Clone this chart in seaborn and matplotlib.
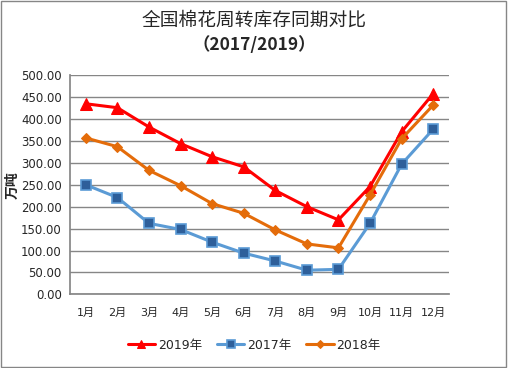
import matplotlib
matplotlib.use("Agg")
import matplotlib.pyplot as plt
import seaborn as sns
import pandas as pd

# ---------------------------------------------------
# Data
# ---------------------------------------------------
months = ["1月", "2月", "3月", "4月", "5月", "6月",
          "7月", "8月", "9月", "10月", "11月", "12月"]
stock_2019 = [435, 426, 382, 344, 314, 291, 237, 200, 170, 246, 371, 458]
stock_2017 = [250, 221, 162, 148, 119, 94, 76, 55, 57, 162, 297, 377]
stock_2018 = [357, 337, 283, 248, 207, 185, 147, 115, 106, 227, 355, 432]
series_names = ["2019年", "2017年", "2018年"]

df = pd.DataFrame({
    "idx": list(range(len(months))) * 3,
    "value": stock_2019 + stock_2017 + stock_2018,
    "year": [n for n in series_names for _ in months],
})

sns.set_theme(style="white")
plt.rcParams["font.family"] = ["DejaVu Sans", "Noto Sans CJK SC"]
cjk = ["Noto Sans CJK SC", "DejaVu Sans"]

fig = plt.figure(figsize=(5.08, 3.68), dpi=100)
ax = fig.add_axes([70 / 508, 1 - 294.3 / 368, 379 / 508, 219 / 368])

palette = {"2019年": "#FF0000", "2017年": "#5B9BD5", "2018年": "#E46C0A"}
markers = {"2019年": "^", "2017年": "s", "2018年": "D"}

sns.lineplot(
    data=df, x="idx", y="value", hue="year", style="year",
    palette=palette, markers=markers, dashes=False,
    linewidth=2.2, markersize=7, sort=False, ax=ax, legend=False,
)

# marker styling per series
for line, name in zip(ax.get_lines(), series_names):
    if name == "2017年":
        line.set_markerfacecolor("#2E5F9A")
        line.set_markeredgecolor("#5B9BD5")
        line.set_markeredgewidth(1.2)
        line.set_markersize(7)
    elif name == "2018年":
        line.set_markerfacecolor("#E46C0A")
        line.set_markeredgecolor("#E46C0A")
        line.set_markersize(5)
    else:
        line.set_markerfacecolor("#FF0000")
        line.set_markeredgecolor("#FF0000")
        line.set_markersize(8)

ax.set_xlim(-0.5, len(months) - 0.5)
ax.set_ylim(0, 500)
ax.set_yticks(range(0, 501, 50))
ax.set_yticklabels([f"{v:.2f}" for v in range(0, 501, 50)], fontsize=8.5)
ax.set_xticks(range(len(months)))
ax.set_xticklabels(months, fontsize=8)
ax.tick_params(axis="both", length=0, pad=6)
ax.tick_params(axis="x", pad=10)
ax.set_xlabel("")
ax.set_ylabel("万吨", fontsize=10, fontweight="bold", family=cjk)
ax.yaxis.set_label_coords(-50 / 379, 0.5)

ax.grid(axis="y", color="#868686", linewidth=1)
ax.grid(axis="x", visible=False)
for side in ["top", "right"]:
    ax.spines[side].set_visible(False)
ax.spines["left"].set_color("#868686")
ax.spines["bottom"].set_color("#868686")
ax.set_axisbelow(True)

fig.text(0.5, 1 - 20 / 368, "全国棉花周转库存同期对比", ha="center", va="center",
         fontsize=13.5, fontweight="medium", family=cjk)
fig.text(0.5, 1 - 45 / 368, "（2017/2019）", ha="center", va="center",
         fontsize=12.5, fontweight="bold", family=cjk)

handles = ax.get_lines()[:3]
fig.legend(handles, series_names, loc="center", bbox_to_anchor=(0.5, 1 - 345 / 368),
           ncol=3, frameon=False, fontsize=9, handlelength=2.2, columnspacing=1.2,
           handletextpad=0.2, markerscale=0.8)

# outer border
fig.patches.append(plt.Rectangle((0.002, 0.003), 0.995, 0.994, transform=fig.transFigure,
                                 fill=False, edgecolor="#868686", linewidth=1))

fig.savefig("out.png", dpi=100)
plt.close(fig)
